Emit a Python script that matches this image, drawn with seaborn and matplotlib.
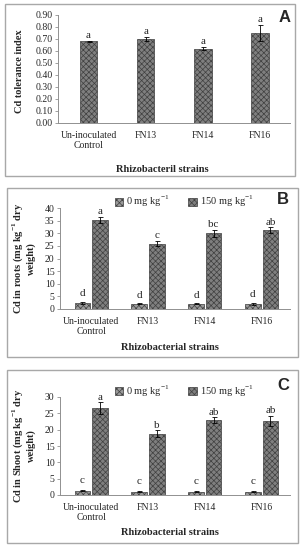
import matplotlib
matplotlib.use("Agg")
import matplotlib.pyplot as plt
from matplotlib.patches import Rectangle
import pandas as pd
import seaborn as sns

# data
strains = ["Un-inoculated\nControl", "FN13", "FN14", "FN16"]
doses = ["0 mg kg$^{-1}$", "150 mg kg$^{-1}$"]

# panel A - Cd tolerance index
tol_index = [0.68, 0.70, 0.62, 0.75]
tol_err = [0.005, 0.02, 0.015, 0.07]
tol_letters = ["a", "a", "a", "a"]

# panel B - Cd in roots
roots_0 = [2.4, 2.0, 2.0, 2.0]
roots_0_err = [0.3, 0.2, 0.2, 0.3]
roots_150 = [35.2, 25.9, 30.0, 31.2]
roots_150_err = [1.3, 1.1, 1.3, 1.2]
roots_letters_0 = ["d", "d", "d", "d"]
roots_letters_150 = ["a", "c", "bc", "ab"]

# panel C - Cd in shoot
shoot_0 = [1.3, 1.0, 1.0, 1.0]
shoot_0_err = [0.15, 0.15, 0.15, 0.15]
shoot_150 = [26.6, 18.8, 22.9, 22.7]
shoot_150_err = [1.8, 1.0, 0.9, 1.5]
shoot_letters_0 = ["c", "c", "c", "c"]
shoot_letters_150 = ["a", "b", "ab", "ab"]

sns.set_style("white")
plt.rcParams["font.family"] = ["Liberation Serif", "DejaVu Serif"]
plt.rcParams["mathtext.fontset"] = "custom"
plt.rcParams["mathtext.rm"] = "Liberation Serif"
plt.rcParams["mathtext.bf"] = "Liberation Serif:bold"
plt.rcParams["hatch.linewidth"] = 0.5

W, H = 305, 550
fig = plt.figure(figsize=(W / 100, H / 100), dpi=100)

def fbox(x0, y0, x1, y1):
    # pixel box -> figure fraction
    return [x0 / W, 1 - y1 / H, (x1 - x0) / W, (y1 - y0) / H]

# panel frames
for (x0, y0, x1, y1) in [(5, 4, 295, 176), (7, 188, 298, 357), (7, 370, 298, 543)]:
    fig.add_artist(Rectangle((x0 / W, 1 - y1 / H), (x1 - x0) / W, (y1 - y0) / H,
                             transform=fig.transFigure, fill=False,
                             edgecolor="#a8a8a8", linewidth=1.0))

bar_colors = {"0": "#9a9a9a", "150": "#7f7f7f"}
TICK_FS = 7
LAB_FS = 7.5

def style_axis(ax, ymax, step, fmt):
    ax.set_ylim(0, ymax)
    ticks = [i * step for i in range(int(round(ymax / step)) + 1)]
    ax.set_yticks(ticks)
    ax.set_yticklabels([fmt.format(t) for t in ticks], fontsize=TICK_FS)
    ax.tick_params(axis="y", left=True, length=2.5, width=0.6, color="#909090", pad=1.5)
    ax.tick_params(axis="x", bottom=False, labelsize=TICK_FS, pad=2)
    sns.despine(ax=ax)
    for s in ["left", "bottom"]:
        ax.spines[s].set_color("#909090")
        ax.spines[s].set_linewidth(0.7)

def annotate(ax, bars, errs, letters, pad):
    xs = [b.get_x() + b.get_width() / 2 for b in bars]
    hs = [b.get_height() for b in bars]
    ax.errorbar(xs, hs, yerr=errs, fmt="none", ecolor="black",
                elinewidth=0.6, capsize=1.8, capthick=0.6)
    for x, h, e, t in zip(xs, hs, errs, letters):
        ax.text(x, h + e + pad, t, ha="center", va="bottom", fontsize=8)

# ---- panel A
axA = fig.add_axes(fbox(58.3, 15, 290, 123))
dfA = pd.DataFrame({"strain": strains, "value": tol_index})
sns.barplot(data=dfA, x="strain", y="value", ax=axA, width=0.31,
            color=bar_colors["150"], edgecolor="#404040", linewidth=0.5, hatch="xxxxxx")
axA.set_xlim(-0.53, 3.53)
style_axis(axA, 0.9, 0.1, "{:.2f}")
annotate(axA, axA.containers[0], tol_err, tol_letters, 0.005)
axA.set_ylabel("Cd tolerance index", fontsize=LAB_FS, fontweight="bold")
axA.yaxis.set_label_coords(-0.148, 0.48)
axA.set_xlabel("Rhizobacteril strains", fontsize=LAB_FS, fontweight="bold")
axA.xaxis.set_label_coords(0.45, -0.39)
fig.text(285 / W, 1 - 18 / H, "A", family="Liberation Sans", fontweight="bold",
         fontsize=12, ha="center", va="center")

def dose_panel(box, v0, e0, v150, e150, l0, l150, ymax, ylabel, letter, ly):
    ax = fig.add_axes(fbox(*box))
    df = pd.DataFrame({"strain": strains * 2,
                       "dose": [doses[0]] * 4 + [doses[1]] * 4,
                       "value": v0 + v150})
    sns.barplot(data=df, x="strain", y="value", hue="dose", ax=ax, width=0.62, gap=0.12,
                palette=[bar_colors["0"], bar_colors["150"]],
                edgecolor="#404040", linewidth=0.5, hatch="xxxxxx")
    ax.set_xlim(-0.55, 3.5)
    style_axis(ax, ymax, 5, "{:.0f}")
    annotate(ax, ax.containers[0], e0, l0, 1.5)
    annotate(ax, ax.containers[1], e150, l150, 0.2)
    ax.set_ylabel(ylabel, fontsize=LAB_FS, fontweight="bold", linespacing=1.15)
    ax.yaxis.set_label_coords(-0.105, 0.5)
    ax.set_xlabel("Rhizobacterial strains", fontsize=LAB_FS, fontweight="bold")
    ax.xaxis.set_label_coords(0.48, -0.34)
    ax.legend(loc="center", bbox_to_anchor=(0.54, 1.06), ncol=2, frameon=False,
              fontsize=7.5, handlelength=0.8, handleheight=0.8, handletextpad=0.3,
              columnspacing=1.8, borderaxespad=0)
    fig.text(283 / W, 1 - ly / H, letter, family="Liberation Sans", fontweight="bold",
             fontsize=12, ha="center", va="center")
    return ax

dose_panel((60, 208, 290, 309), roots_0, roots_0_err, roots_150, roots_150_err,
           roots_letters_0, roots_letters_150, 40,
           "Cd in roots (mg kg$^{\\mathbf{-1}}$ dry\nweight)", "B", 200)
dose_panel((60, 397, 290, 495), shoot_0, shoot_0_err, shoot_150, shoot_150_err,
           shoot_letters_0, shoot_letters_150, 30,
           "Cd in Shoot (mg kg$^{\\mathbf{-1}}$ dry\nweight)", "C", 386)

fig.savefig("out.png", dpi=100)
